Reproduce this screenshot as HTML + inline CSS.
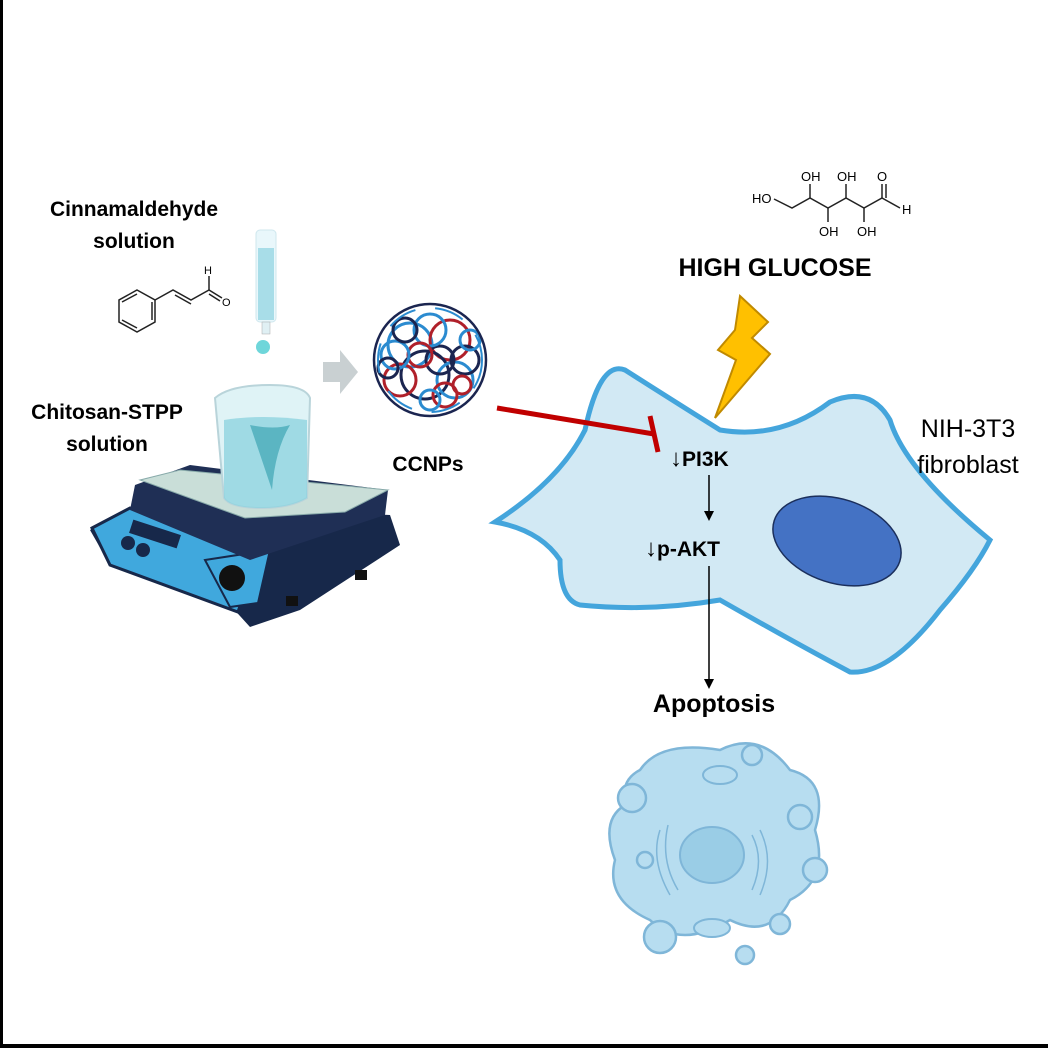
<!DOCTYPE html>
<html><head><meta charset="utf-8"><style>
html,body{margin:0;padding:0;background:#fff}
svg{display:block}
text{font-family:"Liberation Sans",sans-serif}
</style></head><body>
<svg width="1048" height="1048" viewBox="0 0 1048 1048" xmlns="http://www.w3.org/2000/svg">
<rect x="0" y="0" width="1048" height="1048" fill="#fff"/>
<rect x="0" y="0" width="3" height="1048" fill="#000"/>
<rect x="0" y="1044" width="1048" height="4" fill="#000"/>

<text x="134" y="216" font-size="21" font-weight="bold" text-anchor="middle">Cinnamaldehyde</text>
<text x="134" y="248" font-size="21" font-weight="bold" text-anchor="middle">solution</text>
<text x="107" y="419" font-size="21" font-weight="bold" text-anchor="middle">Chitosan-STPP</text>
<text x="107" y="451" font-size="21" font-weight="bold" text-anchor="middle">solution</text>

<g stroke="#222" stroke-width="1.5" fill="none">
<polygon points="137,290 155,300 155,322 137,332 119,322 119,300"/>
<line x1="152" y1="302" x2="152" y2="320"/><line x1="137" y1="328" x2="122" y2="320"/><line x1="122" y1="302" x2="137" y2="294"/>
<polyline points="155,300 173,290 191,300 209,290 222,298"/>
<line x1="175" y1="295" x2="191" y2="304"/>
<line x1="209" y1="290" x2="209" y2="276"/>
<line x1="209" y1="294" x2="220" y2="301"/>
</g>
<text x="204" y="274" font-size="11">H</text>
<text x="222" y="306" font-size="11">O</text>

<rect x="256" y="230" width="20" height="92" rx="4" fill="#e9f7fb" stroke="#cfe7ee"/>
<rect x="258" y="248" width="16" height="72" fill="#a8dde8"/>
<rect x="262" y="322" width="8" height="12" fill="#e0f0f4" stroke="#aaa" stroke-width="0.5"/>
<ellipse cx="263" cy="347" rx="7" ry="7" fill="#6fd6da"/>

<!-- stirrer -->
<polygon points="90,530 140,505 390,515 400,545 300,610 250,627 230,605 110,565" fill="#17284a"/>
<polygon points="92,528 130,508 255,560 238,612 110,565" fill="#40a8dd" stroke="#17284a" stroke-width="3"/>
<rect x="130" y="527" width="50" height="14" fill="#17284a" transform="rotate(18 155 534)"/>
<circle cx="128" cy="543" r="7" fill="#17284a"/><circle cx="143" cy="550" r="7" fill="#17284a"/>
<polygon points="205,560 270,550 258,603 230,607" fill="#40a8dd" stroke="#17284a" stroke-width="2"/>
<circle cx="232" cy="578" r="13" fill="#111"/>
<polygon points="135,485 190,465 388,490 385,515 250,560 130,510" fill="#1f2f55"/>
<polygon points="140,480 180,470 388,490 345,512 245,518" fill="#c9ded8" stroke="#8aa" stroke-width="1"/>
<rect x="355" y="570" width="12" height="10" fill="#111"/><rect x="286" y="596" width="12" height="10" fill="#111"/>
<path d="M215,398 Q230,385 270,385 Q305,385 310,398 L307,498 Q290,508 262,508 Q230,508 224,498 Z" fill="#dff3f6" stroke="#b9d4da" stroke-width="2"/>
<path d="M224,420 Q262,414 307,420 L307,498 Q290,508 262,508 Q230,508 224,498 Z" fill="#8fd3e0" opacity="0.8"/>
<path d="M250,425 Q275,430 290,425 Q275,450 272,490 Q262,460 250,425 Z" fill="#5bb5c2"/>

<polygon points="323,362 340,362 340,350 358,372 340,394 340,382 323,382" fill="#c9d0d2"/>

<!-- nanoparticle -->
<g fill="none" stroke-width="3">
<circle cx="410" cy="345" r="22" stroke="#2b8bd0"/><circle cx="450" cy="340" r="20" stroke="#b0202a"/>
<circle cx="425" cy="375" r="24" stroke="#1b2550"/><circle cx="455" cy="380" r="18" stroke="#2b8bd0"/>
<circle cx="400" cy="380" r="16" stroke="#b0202a"/><circle cx="440" cy="360" r="14" stroke="#1b2550"/>
<circle cx="430" cy="330" r="16" stroke="#2b8bd0"/><circle cx="420" cy="355" r="12" stroke="#b0202a"/>
<circle cx="465" cy="360" r="14" stroke="#1b2550"/><circle cx="395" cy="355" r="14" stroke="#2b8bd0"/>
<circle cx="445" cy="395" r="12" stroke="#b0202a"/><circle cx="405" cy="330" r="12" stroke="#1b2550"/>
<circle cx="470" cy="340" r="10" stroke="#2b8bd0"/><circle cx="388" cy="368" r="10" stroke="#1b2550"/>
<circle cx="430" cy="400" r="10" stroke="#2b8bd0"/><circle cx="462" cy="385" r="9" stroke="#b0202a"/>
</g>
<circle cx="430" cy="360" r="56" fill="none" stroke="#1b2550" stroke-width="2.5"/>
<circle cx="430" cy="360" r="52" fill="none" stroke="#2b8bd0" stroke-width="2" stroke-dasharray="30 20"/>
<text x="428" y="471" font-size="21" font-weight="bold" text-anchor="middle">CCNPs</text>

<!-- cell -->
<path d="M495,522 Q560,480 585,430 Q600,360 625,370 Q680,405 720,430 Q780,440 830,402 Q870,385 890,420 Q905,470 990,540 Q975,570 940,610 Q890,675 850,672 Q790,640 720,600 Q650,612 580,605 Q560,600 560,560 Q540,530 495,522 Z" fill="#d2e9f4" stroke="#44a5dc" stroke-width="5"/>
<ellipse cx="837" cy="541" rx="66" ry="42" transform="rotate(18 837 541)" fill="#4472c4" stroke="#1b2f5c" stroke-width="1.5"/>

<line x1="497" y1="408" x2="654" y2="434" stroke="#c00000" stroke-width="5"/>
<line x1="650" y1="416" x2="658" y2="452" stroke="#c00000" stroke-width="5"/>

<polygon points="740,296 768,322 752,338 770,354 715,418 736,360 718,350 735,330" fill="#ffc000" stroke="#c08a00" stroke-width="2"/>

<text x="775" y="276" font-size="25" font-weight="bold" text-anchor="middle">HIGH GLUCOSE</text>
<g stroke="#222" stroke-width="1.5" fill="none">
<polyline points="774,199 792,208 810,198 828,208 846,198 864,208 882,198 900,208"/>
<line x1="810" y1="198" x2="810" y2="184"/><line x1="846" y1="198" x2="846" y2="184"/>
<line x1="828" y1="208" x2="828" y2="222"/><line x1="864" y1="208" x2="864" y2="222"/>
<line x1="882" y1="198" x2="882" y2="184"/><line x1="886" y1="198" x2="886" y2="184"/>
</g>
<g font-size="13"><text x="752" y="203">HO</text><text x="801" y="181">OH</text><text x="837" y="181">OH</text>
<text x="877" y="181">O</text><text x="819" y="236">OH</text><text x="857" y="236">OH</text><text x="902" y="214">H</text></g>

<text x="670" y="466" font-size="21" font-weight="bold"><tspan font-size="24">↓</tspan>PI3K</text>
<line x1="709" y1="475" x2="709" y2="512" stroke="#000" stroke-width="1.5"/>
<polygon points="704,511 714,511 709,521" fill="#000"/>
<text x="645" y="556" font-size="21" font-weight="bold"><tspan font-size="24">↓</tspan>p-AKT</text>
<line x1="709" y1="566" x2="709" y2="680" stroke="#000" stroke-width="1.5"/>
<polygon points="704,679 714,679 709,689" fill="#000"/>
<text x="714" y="712" font-size="25" font-weight="bold" text-anchor="middle">Apoptosis</text>

<text x="968" y="437" font-size="25" text-anchor="middle">NIH-3T3</text>
<text x="968" y="473" font-size="25" text-anchor="middle">fibroblast</text>

<g fill="#b7ddf0" stroke="#7fb6d8" stroke-width="2.5">
<path d="M640,770 Q660,740 720,750 Q760,730 790,770 Q830,780 815,830 Q830,880 790,900 Q770,940 730,920 Q680,950 650,920 Q605,900 615,860 Q600,820 625,805 Q620,780 640,770 Z"/>
<circle cx="632" cy="798" r="14"/><circle cx="752" cy="755" r="10"/><circle cx="800" cy="817" r="12"/>
<circle cx="660" cy="937" r="16"/><circle cx="745" cy="955" r="9"/><circle cx="780" cy="924" r="10"/>
<circle cx="815" cy="870" r="12"/><circle cx="645" cy="860" r="8"/>
</g>
<ellipse cx="712" cy="855" rx="32" ry="28" fill="#9acde6" stroke="#7fb6d8" stroke-width="2"/>
<ellipse cx="720" cy="775" rx="17" ry="9" fill="#b7ddf0" stroke="#7fb6d8" stroke-width="2"/>
<ellipse cx="712" cy="928" rx="18" ry="9" fill="#b7ddf0" stroke="#7fb6d8" stroke-width="2"/>
<g fill="none" stroke="#7fb6d8" stroke-width="1.5">
<path d="M660,830 Q650,860 670,895"/><path d="M668,825 Q660,860 678,890"/>
<path d="M760,830 Q775,860 760,895"/><path d="M752,835 Q765,860 752,890"/>
</g>
</svg>
</body></html>
